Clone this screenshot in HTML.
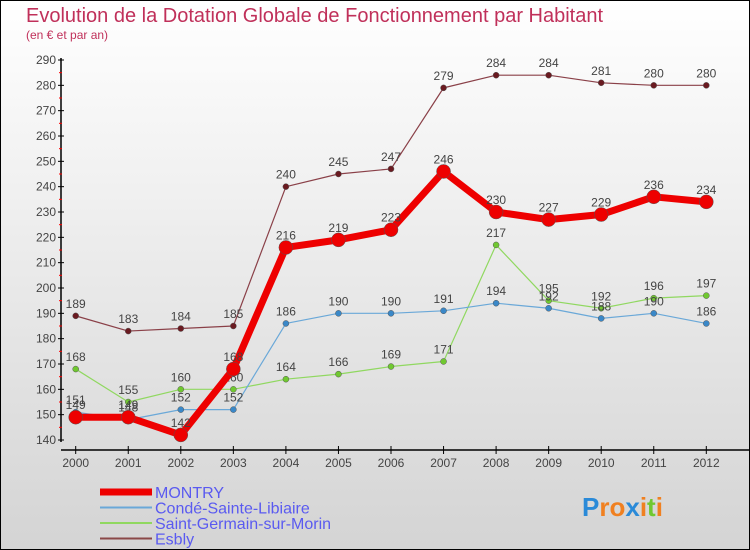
<!DOCTYPE html>
<html><head><meta charset="utf-8"><style>
body{margin:0}
svg{display:block;font-family:"Liberation Sans",sans-serif}
</style></head><body>
<svg id="c" width="750" height="550" xmlns="http://www.w3.org/2000/svg">
<defs><linearGradient id="bg" x1="0" y1="0" x2="0" y2="1"><stop offset="0" stop-color="#ffffff"/><stop offset="1" stop-color="#d4d4d4"/></linearGradient></defs>
<rect x="0.5" y="0.5" width="749" height="549" fill="url(#bg)" stroke="#000"/>
<text x="26" y="22" font-size="20" fill="#c0305a">Evolution de la Dotation Globale de Fonctionnement par Habitant</text>
<text x="26" y="39" font-size="12" fill="#c0305a">(en € et par an)</text>
<g id="axes"></g><g id="series"></g><g id="legend"></g>
</svg>
<script>
const years=["2000","2001","2002","2003","2004","2005","2006","2007","2008","2009","2010","2011","2012"];
const yTicks=[140,150,160,170,180,190,200,210,220,230,240,250,260,270,280,290];
const montry=[149,149,142,168,216,219,223,246,230,227,229,236,234];
const conde=[151,148,152,152,186,190,190,191,194,192,188,190,186];
const stGermain=[168,155,160,160,164,166,169,171,217,195,192,196,197];
const esbly=[189,183,184,185,240,245,247,279,284,284,281,280,280];
const seriesNames=["MONTRY","Condé-Sainte-Libiaire","Saint-Germain-sur-Morin","Esbly"];
const NS="http://www.w3.org/2000/svg";
const x=i=>75.7+i*52.55;
const y=v=>440-(v-140)*(380/150);
function mk(tag,attrs,parent,txt){const e=document.createElementNS(NS,tag);for(const k in attrs)e.setAttribute(k,attrs[k]);if(txt!==undefined)e.textContent=txt;parent.appendChild(e);return e;}
const ax=document.getElementById('axes');
let a=mk('line',{x1:61,y1:58,x2:61,y2:442,stroke:'#000','stroke-width':1.5},ax);


a=mk('line',{x1:61,y1:450,x2:750,y2:450,stroke:'#000','stroke-width':1.5},ax);


yTicks.forEach(v=>{
  mk('line',{x1:58,y1:y(v),x2:64,y2:y(v),stroke:'#000'},ax);
  if(v<290)mk('line',{x1:59,y1:y(v+5),x2:62,y2:y(v+5),stroke:'#f00'},ax);
  const t=mk('text',{x:56,y:y(v)+4,'font-size':12,'text-anchor':'end',fill:'#444'},ax,String(v));
  
  
});
years.forEach((yr,i)=>{
  mk('line',{x1:x(i),y1:446,x2:x(i),y2:454,stroke:'#000'},ax);
  const t=mk('text',{x:x(i),y:467,'font-size':12,'text-anchor':'middle',fill:'#444'},ax,yr);
  
  
});
const sg=document.getElementById('series');
function draw(vals,color,w,r,name,dot){
  const g=mk('g',{},sg);
  
  
  const p=mk('polyline',{points:vals.map((v,i)=>x(i)+','+y(v)).join(' '),fill:'none',stroke:color,'stroke-width':w,'stroke-linejoin':'round'},g);
  
  
  vals.forEach((v,i)=>{
    const c=mk('circle',{cx:x(i),cy:y(v),r:r,fill:dot,stroke:'#555','stroke-width':0.5},g);
    
    
    const t=mk('text',{x:x(i),y:y(v)-8,'font-size':12,'text-anchor':'middle',fill:'#444'},g,String(v));
    
    
  });
}
draw(esbly,'#8a4048',1.2,3,'esbly','#6a1a20');
draw(stGermain,'#90d860',1.2,3,'saint-germain','#70c830');
draw(conde,'#6aa8d8',1.2,3,'conde','#3a88c8');
draw(montry,'#ee0000',7,7,'montry','#ee0000');
const lg=document.getElementById('legend');
const lc=[['#ee0000',7],['#6aa8d8',2],['#90d860',2],['#8a4848',2]];
seriesNames.forEach((n,i)=>{
  const yy=492+i*15.5;
  const l=mk('line',{x1:100,y1:yy,x2:152,y2:yy,stroke:lc[i][0],'stroke-width':lc[i][1]},lg);
  
  
  const t=mk('text',{x:155,y:yy+6,'font-size':16,fill:'#5a5af0'},lg,n);
  
  
});
const pl=mk('text',{x:582,y:516,'font-size':26,'font-weight':'bold',fill:'#f08020'},lg);


[['P','#2a8ad8'],['ro','#f08020'],['x','#2a8ad8'],['i','#f08020'],['t','#70c830'],['i','#f08020']].forEach(([s,c])=>{mk('tspan',{fill:c},pl,s);});
</script>
</body></html>
